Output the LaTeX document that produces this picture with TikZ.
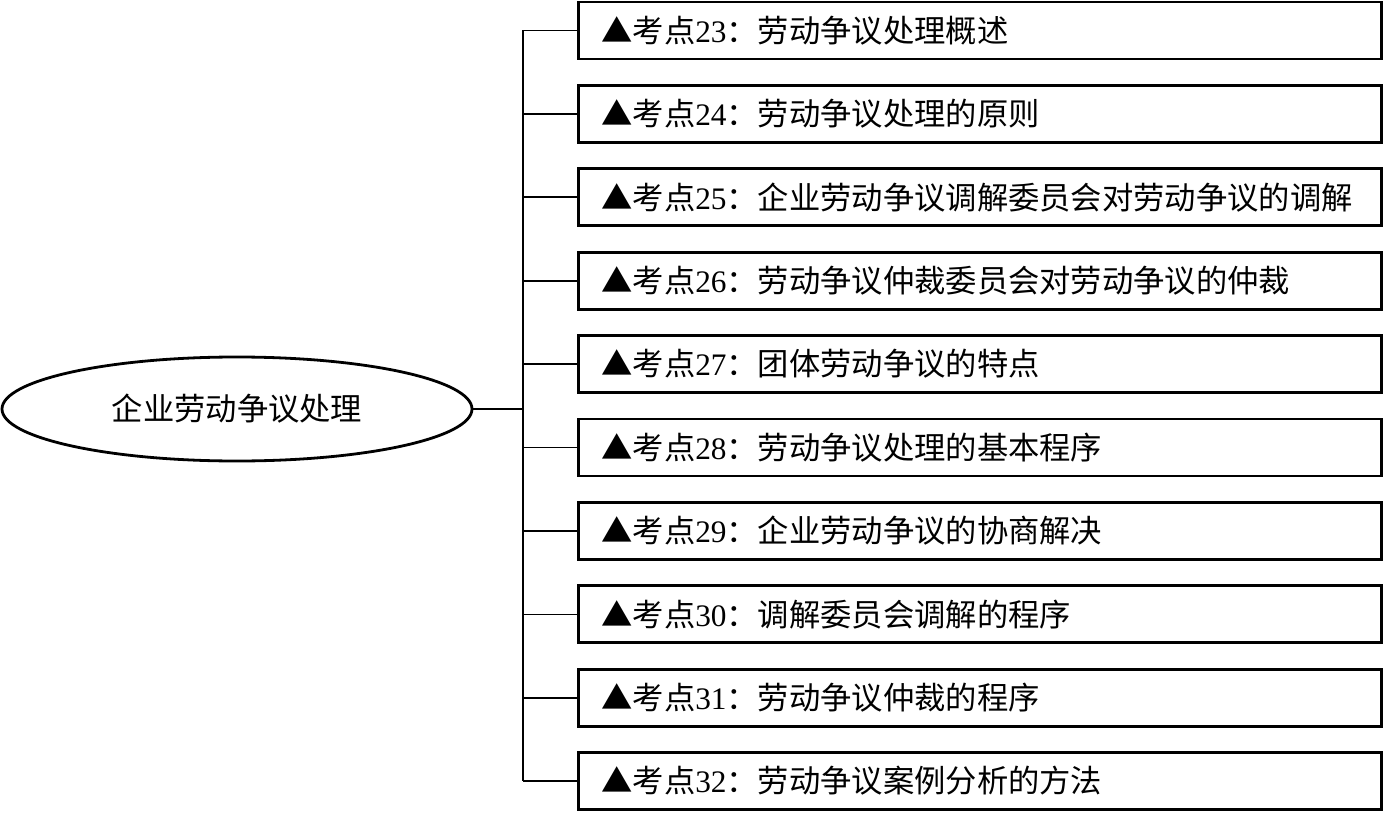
\documentclass[tikz,border=0pt]{standalone}
\usepackage{fontspec}
\setmainfont{Liberation Serif}
\newfontfamily\cjk{Noto Sans CJK SC}
\usetikzlibrary{shapes.geometric}
\newcommand{\kdtext}[2]{{\cjk ▲考点}#1{\cjk ：#2}}
\tikzset{
  kbox/.style={draw, line width=2.8pt, anchor=west, minimum width=803pt, minimum height=57pt,
    text width=757pt, align=left, inner xsep=23pt, inner ysep=0pt,
    font=\fontsize{31.3}{36}\selectfont},
  conn/.style={line width=1.6pt},
  rootnode/.style={draw, ellipse, line width=2.8pt, minimum width=470pt, minimum height=104pt,
    inner sep=0pt, font=\fontsize{31.3}{36}\selectfont\cjk}
}
\begin{document}
\begin{tikzpicture}[x=1pt,y=-1pt]
\useasboundingbox (0,0) rectangle (1384,813);
\foreach \i/\n/\t in {1/23/劳动争议处理概述,
  2/24/劳动争议处理的原则,
  3/25/企业劳动争议调解委员会对劳动争议的调解,
  4/26/劳动争议仲裁委员会对劳动争议的仲裁,
  5/27/团体劳动争议的特点,
  6/28/劳动争议处理的基本程序,
  7/29/企业劳动争议的协商解决,
  8/30/调解委员会调解的程序,
  9/31/劳动争议仲裁的程序,
  10/32/劳动争议案例分析的方法}{
  \pgfmathsetmacro{\yy}{30.5+83.4*(\i-1)}
  \node[kbox] (b\i) at (577,\yy) {\kdtext{\n}{\t}};
  \coordinate (t\i) at (523,\yy);
  \draw[conn] (t\i) -- (b\i.west);
}
\draw[conn] (t1) -- (t10);
\node[rootnode] (root) at (237,409) {企业劳动争议处理};
\coordinate (tr) at (523,409);
\draw[conn] (root.east) -- (tr);
\end{tikzpicture}
\end{document}
